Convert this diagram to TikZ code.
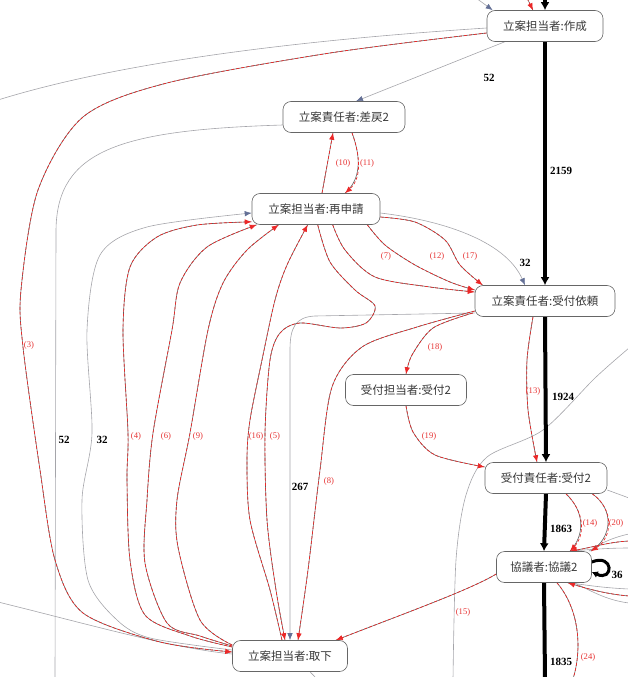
\documentclass[tikz,border=0pt]{standalone}
\usepackage{fontspec}
\setmainfont{Liberation Serif}
\newfontfamily\cjk{Noto Sans CJK JP}
\usetikzlibrary{arrows.meta}
\pgfdeclarelayer{bg}
\pgfsetlayers{bg,main}
\definecolor{rline}{RGB}{235,40,40}
\definecolor{dline}{RGB}{95,95,95}
\definecolor{glin}{RGB}{165,165,170}
\definecolor{gtip}{RGB}{100,112,150}
\definecolor{labred}{RGB}{230,50,50}
\begin{document}
\begin{tikzpicture}[x=1pt,y=-1pt,
  box/.style={draw=black!60, line width=0.6pt, rounded corners=8pt, fill=white,
    minimum height=31pt, inner sep=2pt, font=\cjk\fontsize{11.5}{13}\selectfont, text=black!78},
  bigflow/.style={draw=black, line width=4pt, -{Latex[length=8pt,width=9pt]}},
  gedge/.style={draw=glin, line width=0.6pt, -{Latex[length=7pt,width=5.5pt,color=gtip]}},
  gplain/.style={draw=glin, line width=0.6pt},
  redge/.style={draw=rline, line width=0.7pt, dash pattern=on 3pt off 2pt,
    -{Latex[length=7pt,width=5.5pt]},
    preaction={draw=dline, solid, arrows=-, line width=0.6pt}},
  rplain/.style={draw=rline, line width=0.7pt, dash pattern=on 3pt off 2pt,
    preaction={draw=dline, solid, line width=0.6pt}},
  num/.style={font=\bfseries\fontsize{11}{12}\selectfont, text=black},
  rlab/.style={font=\fontsize{8.6}{10}\selectfont, text=labred}
]
\useasboundingbox (0,0) rectangle (627,677);

% ---------- nodes ----------
\node[box, minimum width=116pt] (A) at (545,26)  {立案担当者:作成};
\node[box, minimum width=122pt] (B) at (344,117) {立案責任者:差戻2};
\node[box, minimum width=128pt] (C) at (316,209) {立案担当者:再申請};
\node[box, minimum width=140pt] (D) at (545,301) {立案責任者:受付依頼};
\node[box, minimum width=121pt] (E) at (406,390) {受付担当者:受付2};
\node[box, minimum width=122pt] (F) at (546,478) {受付責任者:受付2};
\node[box, minimum width=95pt]  (G) at (544,567) {協議者:協議2};
\node[box, minimum width=115pt] (H) at (290,656) {立案担当者:取下};

% ---------- helper coordinates ----------
\coordinate (topA1) at (476,-2);
\coordinate (topA2) at (527,-2);
\coordinate (topA3) at (545,-2);
\coordinate (leftA) at (-2,100);
\coordinate (botB) at (55,679);
\coordinate (leftH) at (-2,602);
\coordinate (rightX) at (629,348);
\coordinate (botX) at (453,679);
\coordinate (rightF) at (629,498);
\coordinate (r1) at (629,534);
\coordinate (r2) at (629,541);
\coordinate (r3) at (629,548);
\coordinate (r4) at (629,589);
\coordinate (r5) at (629,596);
\coordinate (r6) at (629,603);
\coordinate (bot24) at (573,679);
\coordinate (botH) at (317,679);
\coordinate (botG) at (545,679);

\coordinate (aw1) at ([yshift=-2pt]A.west);
\coordinate (aw3) at ([yshift=-7pt]A.west);
\coordinate (hwg) at ([yshift=2pt]H.west);
\coordinate (hw3) at ([yshift=4pt]H.west);
\coordinate (hw32) at ([yshift=6pt]H.west);
\coordinate (hw4) at ([yshift=9pt]H.west);
\coordinate (hw6) at ([yshift=10pt]H.west);
\coordinate (hw9) at ([yshift=11pt]H.west);
\coordinate (hn16) at ([xshift=-8pt]H.north);
\coordinate (hn5) at ([xshift=-5pt]H.north);
\coordinate (hn8) at ([xshift=8pt]H.north);
\coordinate (cw32) at ([yshift=-4pt]C.west);
\coordinate (c4) at ([yshift=3pt]C.south west);
\coordinate (c6) at ([xshift=5pt]C.south west);
\coordinate (c9) at ([xshift=27pt]C.south west);
\coordinate (c16) at ([xshift=56pt]C.south west);
\coordinate (c5) at ([xshift=66pt]C.south west);
\coordinate (c7) at ([xshift=81pt]C.south west);
\coordinate (c12) at ([xshift=-13pt]C.south east);
\coordinate (ce17) at ([yshift=-8pt]C.east);
\coordinate (ce32) at ([yshift=-4pt]C.east);
\coordinate (dw7) at ([yshift=9pt]D.west);
\coordinate (dw12) at ([yshift=11pt]D.west);
\coordinate (dn17) at ([xshift=8pt]D.north west);
\coordinate (dw8) at ([yshift=-10pt]D.west);
\coordinate (dw18) at ([xshift=-2pt,yshift=-12pt]D.west);
\coordinate (ds13) at ([xshift=-12pt]D.south);
\coordinate (fn13) at ([xshift=-9pt]F.north);
\coordinate (fw19) at ([yshift=11pt]F.west);

\begin{pgfonlayer}{bg}
% ---------- grey edges ----------
\draw[gedge] (topA1) -- ([xshift=6pt]A.north west);
\draw[gplain] (aw1) .. controls (300,40) and (120,62) .. (leftA);
\draw[gedge] ([xshift=18pt]A.south west) -- ([xshift=12pt]B.north);
\draw[gplain] ([yshift=-8pt]B.west) .. controls (120,130) and (57,150) .. (56,230) -- (botB);
\draw[gedge] (ce32) .. controls (440,220) and (505,240) .. ([xshift=-20pt]D.north);
\draw[gedge] plot[smooth] coordinates {(hw32) (150,638) (117,620) (88,580) (82,500) (92,433) (87,330) (100,255) (147,227) (cw32)};
\draw[gedge] ([yshift=-12pt]D.west) -- (315,316) .. controls (295,317) and (290,328) .. (290,350) -- (H.north);
\draw[gplain] (leftH) .. controls (80,622) and (170,648) .. (hwg);
\draw[gplain] plot[smooth] coordinates {(rightX) (595,378) (543,430) (487,457) (466,495) (456,560) (botX)};
\draw[gplain] ([yshift=-12pt]F.east) -- (rightF);
\draw[gplain] (r1) .. controls (610,538) and (598,545) .. ([xshift=-3pt]G.north east);
\draw[gplain] (r3) .. controls (605,548) and (585,550) .. ([xshift=-22pt]G.north east);
\draw[gplain] (r4) .. controls (605,588) and (585,585) .. ([xshift=-22pt]G.south east);
\draw[gplain] (r6) .. controls (605,600) and (590,590) .. ([xshift=-18pt]G.south east);
\draw[gplain] ([xshift=20pt]H.south) -- (botH);

% ---------- red edges ----------
\draw[redge] (topA2) -- ([xshift=-12pt]A.north);
\draw[redge] plot[smooth] coordinates {(aw3) (330,53) (167,83) (83,117) (38,190) (21,290) (23,347) (40,470) (55,560) (83,613) (160,642) (hw3)};
\draw[redge] plot[smooth] coordinates {(hw4) (190,636) (145,615) (130,560) (127,480) (128,433) (123,330) (130,267) (157,237) (197,225) (c4)};
\draw[redge] plot[smooth] coordinates {(hw6) (200,636) (167,623) (145,563) (147,500) (153,433) (172,330) (180,283) (207,247) (c6)};
\draw[redge] plot[smooth] coordinates {(hw9) (200,620) (178,547) (177,500) (190,433) (208,330) (223,283) (247,250) (c9)};
\draw[redge] plot[smooth] coordinates {(hn16) (270,590) (250,520) (247,460) (250,420) (262,360) (275,300) (287,265) (c16)};
\draw[redge] plot[smooth] coordinates {(c5) (330,262) (355,290) (375,306) (366,323) (340,328) (300,323) (280,333) (270,360) (265,433) (267,520) (276,590) (hn5)};
\draw[redge] ([xshift=6pt]C.north) -- ([xshift=-11pt]B.south);
\draw[redge] ([xshift=8pt]B.south) .. controls (362,160) and (360,180) .. ([xshift=29pt]C.north);
\draw[redge] plot[smooth] coordinates {(c7) (345,250) (375,277) (430,287) (dw7)};
\draw[redge] plot[smooth] coordinates {(c12) (385,245) (415,265) (450,282) (dw12)};
\draw[redge] plot[smooth] coordinates {(ce17) (415,222) (445,240) (460,265) (dn17)};
\draw[redge] plot[smooth] coordinates {(dw8) (417,327) (362,347) (332,387) (320,470) (308,570) (hn8)};
\draw[redge] plot[smooth] coordinates {(dw18) (433,328) (412,355) (E.north)};
\draw[redge] plot[smooth] coordinates {(ds13) (527,360) (528,410) (fn13)};
\draw[redge] plot[smooth] coordinates {(E.south) (413,432) (435,455) (fw19)};
\draw[redge] ([xshift=20pt]F.south) .. controls (585,512) and (585,535) .. ([xshift=26pt]G.north);
\draw[redge] ([xshift=-15pt]F.south east) .. controls (615,510) and (612,538) .. ([xshift=-1pt]G.north east);
\draw[redge] (r2) .. controls (608,542) and (590,548) .. ([xshift=-22pt]G.north east);
\draw[redge] (r5) .. controls (605,594) and (585,588) .. ([xshift=-24pt]G.south east);
\draw[redge] ([yshift=-7pt]G.west) .. controls (470,590) and (400,615) .. ([xshift=-12pt]H.north east);
\draw[rplain] ([xshift=13pt]G.south) .. controls (580,610) and (582,650) .. (bot24);

% ---------- main flow ----------
\draw[bigflow] (topA3) -- (A.north);
\draw[bigflow] (A.south) -- (D.north);
\draw[bigflow] (D.south) -- (F.north);
\draw[bigflow] (F.south) -- (G.north);
\draw[bigflow, arrows=-] (G.south) -- (botG);
\draw[bigflow, line width=3pt, -{Latex[length=6pt,width=7pt]}] ([yshift=5pt]G.east) .. controls (614,553) and (614,582) .. ([yshift=-5pt]G.east);
\end{pgfonlayer}

% ---------- labels ----------
\node[num] (n1) at (561,171) {2159};
\node[num] (n2) at (489,78) {52};
\node[num] (n3) at (525,263) {32};
\node[num] (n4) at (563,397) {1924};
\node[num] (n5) at (561,529) {1863};
\node[num] (n6) at (561,662) {1835};
\node[num] (n7) at (64,440) {52};
\node[num] (n8) at (102,440) {32};
\node[num] (n9) at (300,487) {267};
\node[num] (n10) at (617,575) {36};

\node[rlab] (l3) at (29,345) {(3)};
\node[rlab] (l4) at (136,436) {(4)};
\node[rlab] (l6) at (166,436) {(6)};
\node[rlab] (l9) at (198,436) {(9)};
\node[rlab] (l16) at (256,436) {(16)};
\node[rlab] (l5) at (275,436) {(5)};
\node[rlab] (l8) at (329,481) {(8)};
\node[rlab] (l10) at (343,163) {(10)};
\node[rlab] (l11) at (367,163) {(11)};
\node[rlab] (l7) at (386,256) {(7)};
\node[rlab] (l12) at (437,256) {(12)};
\node[rlab] (l17) at (470,256) {(17)};
\node[rlab] (l18) at (435,347) {(18)};
\node[rlab] (l13) at (533,391) {(13)};
\node[rlab] (l19) at (429,436) {(19)};
\node[rlab] (l14) at (590,523) {(14)};
\node[rlab] (l20) at (616,523) {(20)};
\node[rlab] (l15) at (463,612) {(15)};
\node[rlab] (l24) at (588,657) {(24)};
\end{tikzpicture}
\end{document}
